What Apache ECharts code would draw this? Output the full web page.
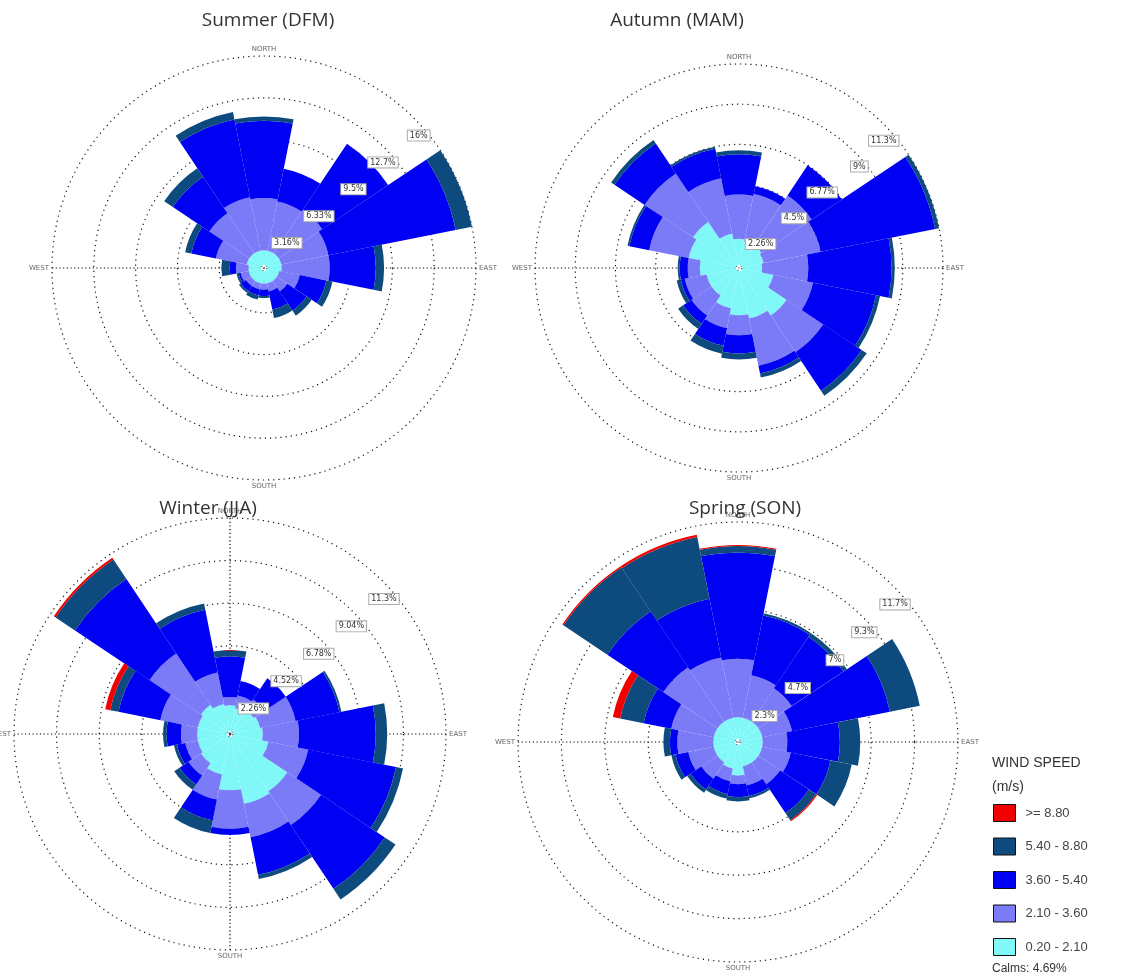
<!DOCTYPE html>
<html>
<head>
<meta charset="utf-8">
<script src="https://cdn.jsdelivr.net/npm/echarts@6/dist/echarts.min.js"></script>
<style>
  html, body { margin: 0; padding: 0; background: #fff; }
  #main { width: 1127px; height: 977px; }
</style>
</head>
<body>
<div id="main"></div>
<script>
// wind directions, clockwise from north
var directions = ['N', 'NNE', 'NE', 'ENE', 'E', 'ESE', 'SE', 'SSE', 'S', 'SSW', 'SW', 'WSW', 'W', 'WNW', 'NW', 'NNW'];
var speedClasses = ['>= 8.80', '5.40 - 8.80', '3.60 - 5.40', '2.10 - 3.60', '0.20 - 2.10'];

// Summer (DFM) - frequency % per speed class
var summerCalm  = [1.11, 1.11, 1.11, 1.11, 1.11, 0.95, 0.95, 0.95, 0.95, 0.95, 0.95, 0.95, 0.95, 1.11, 1.11, 1.11];
var summerLow   = [3.95, 3.79, 3.95, 3.63, 3.63, 1.58, 0.95, 0.63, 0.47, 0.47, 0.47, 0.63, 0.95, 2.37, 3.63, 4.11];
var summerMid   = [5.85, 2.53, 6.00, 9.80, 3.48, 2.05, 1.74, 1.42, 0.47, 0.47, 0.47, 0.16, 0.47, 1.90, 3.32, 6.00];
var summerHigh  = [0.32, 0, 0, 1.26, 0.63, 0.47, 0.47, 0.63, 0.16, 0.32, 0.16, 0.16, 0.63, 0.47, 0.79, 0.57];
var summerStorm = [0, 0, 0, 0, 0, 0, 0, 0, 0, 0, 0, 0, 0, 0, 0, 0];
var summerRings = ['3.16%', '6.33%', '9.5%', '12.7%', '16%'];

// Autumn (MAM)
var autumnCalm  = [1.47, 1.35, 1.35, 1.24, 1.13, 1.80, 3.04, 2.71, 2.48, 2.14, 1.69, 1.69, 2.03, 2.71, 2.93, 1.80];
var autumnLow   = [2.48, 2.71, 3.38, 3.27, 2.59, 2.26, 2.48, 2.71, 1.13, 1.13, 1.35, 1.24, 0.68, 2.26, 3.27, 3.16];
var autumnMid   = [2.26, 0.45, 2.03, 6.54, 4.67, 3.61, 2.59, 0.45, 1.01, 1.01, 0.56, 0.23, 0.45, 1.13, 2.03, 1.69];
var autumnHigh  = [0.23, 0, 0, 0.34, 0.18, 0.23, 0.34, 0.23, 0.34, 0.45, 0.34, 0.23, 0.11, 0.11, 0.23, 0.11];
var autumnStorm = [0, 0, 0, 0, 0, 0, 0, 0, 0, 0, 0, 0, 0, 0, 0, 0];
var autumnRings = ['2.26%', '4.5%', '6.77%', '9%', '11.3%'];

// Winter (JJA)
var winterCalm  = [1.36, 1.24, 1.36, 1.47, 1.58, 1.92, 3.50, 3.62, 2.83, 2.03, 1.70, 1.58, 1.58, 1.58, 1.70, 1.47];
var winterLow   = [0.45, 0.68, 0.68, 1.92, 1.92, 2.15, 2.15, 1.81, 2.03, 1.36, 0.79, 0.68, 0.86, 2.03, 3.28, 1.70];
var winterMid   = [2.15, 0.79, 1.36, 2.37, 4.07, 4.75, 4.07, 2.03, 0.34, 1.13, 0.57, 0.45, 0.77, 2.26, 4.75, 3.39];
var winterHigh  = [0.34, 0, 0, 0.11, 0.61, 0.38, 0.68, 0.23, 0, 0.68, 0.34, 0.16, 0.18, 0.45, 1.24, 0.34];
var winterStorm = [0, 0, 0, 0, 0, 0, 0, 0, 0, 0, 0, 0, 0, 0.27, 0.11, 0];
var winterRings = ['2.26%', '4.52%', '6.78%', '9.04%', '11.3%'];

// Spring (SON)
var springCalm  = [1.17, 1.17, 1.17, 1.17, 1.17, 1.17, 1.17, 1.17, 1.64, 1.29, 1.17, 1.17, 1.17, 1.17, 1.17, 1.17];
var springLow   = [3.16, 2.34, 2.15, 1.64, 1.33, 1.57, 1.40, 1.05, 0.47, 0.70, 1.05, 1.40, 1.94, 2.34, 3.51, 3.32];
var springMid   = [5.73, 3.28, 3.35, 5.38, 2.83, 2.18, 1.87, 0.59, 0.70, 0.70, 0.70, 0.70, 0.40, 1.52, 3.63, 3.23];
var springHigh  = [0.35, 0.12, 0.23, 1.64, 1.10, 1.17, 0.47, 0.12, 0.23, 0.26, 0.21, 0.23, 0.35, 1.29, 2.85, 3.39];
var springStorm = [0.05, 0, 0, 0, 0, 0, 0.07, 0, 0, 0, 0, 0, 0, 0.40, 0.07, 0.12];
var springRings = ['2.3%', '4.7%', '7%', '9.3%', '11.7%'];

var colors = {
  '0.20 - 2.10': '#80f8f8',
  '2.10 - 3.60': '#7b7bf7',
  '3.60 - 5.40': '#0000f2',
  '5.40 - 8.80': '#0d4a7e',
  '>= 8.80': '#f20000'
};

// panels: data + where each rose sits on the page
var panels = [
  { title: 'Summer (DFM)', titlePos: [263, 6], center: [264, 268], radius: 212, step: 3.16, rings: summerRings, axisLines: ['#000', 'transparent'],
    data: [summerCalm, summerLow, summerMid, summerHigh, summerStorm] },
  { title: 'Autumn (MAM)', titlePos: [672, 6], center: [739, 268], radius: 204, step: 2.255, rings: autumnRings, axisLines: ['#000', 'transparent'],
    data: [autumnCalm, autumnLow, autumnMid, autumnHigh, autumnStorm] },
  { title: 'Winter (JJA)', titlePos: [203, 494], center: [230, 734], radius: 216, step: 2.26, rings: winterRings, axisLines: ['#000'],
    data: [winterCalm, winterLow, winterMid, winterHigh, winterStorm] },
  { title: 'Spring (SON)', titlePos: [740, 494], center: [738, 742], radius: 220, step: 2.34, rings: springRings, axisLines: ['#000', 'transparent'],
    data: [springCalm, springLow, springMid, springHigh, springStorm] }
];

var chart = echarts.init(document.getElementById('main'));

var titles = [];
var polars = [];
var angleAxes = [];
var radiusAxes = [];
var series = [];

panels.forEach(function (p, i) {
  titles.push({
    text: p.title,
    left: p.titlePos[0], top: p.titlePos[1],
    textAlign: 'center',
    textStyle: { fontFamily: 'Open Sans', fontSize: 19, fontWeight: 'normal', color: '#333' }
  });

  var base = polars.length;
  // bars (small hole in the middle for calms)
  polars.push({ center: p.center, radius: [3, p.radius] });
  // compass spokes + labels
  polars.push({ center: p.center, radius: [0, p.radius] });
  // ring labels along the NE diagonal
  polars.push({ center: p.center, radius: [3, p.radius] });

  angleAxes.push({
    polarIndex: base, type: 'category', data: directions, startAngle: 101.25,
    axisLine: { show: false }, axisTick: { show: false }, axisLabel: { show: false }, splitLine: { show: false }
  });
  radiusAxes.push({
    polarIndex: base, type: 'value', min: 0, max: p.step * 5, interval: p.step,
    axisLine: { show: false }, axisTick: { show: false }, axisLabel: { show: false },
    splitLine: { show: true, lineStyle: { color: '#111', width: 1.2, type: [1.2, 4] } }
  });

  angleAxes.push({
    polarIndex: base + 1, type: 'category', data: ['EAST', 'NORTH', 'WEST', 'SOUTH'],
    boundaryGap: false, startAngle: 0, clockwise: false, z: 1,
    axisLine: { show: false }, axisTick: { show: false },
    axisLabel: { show: true, interval: 0, fontSize: 7, color: '#666', fontFamily: 'DejaVu Sans', margin: 3 },
    splitLine: { show: true, interval: 0, lineStyle: { color: p.axisLines, width: 1.2, type: [1.2, 2.5] } }
  });
  radiusAxes.push({
    polarIndex: base + 1, type: 'value', min: 0, max: 1,
    axisLine: { show: false }, axisTick: { show: false }, axisLabel: { show: false }, splitLine: { show: false }
  });

  angleAxes.push({
    polarIndex: base + 2, type: 'value', min: 0, max: 360, startAngle: 40,
    axisLine: { show: false }, axisTick: { show: false }, axisLabel: { show: false }, splitLine: { show: false }
  });
  radiusAxes.push({
    polarIndex: base + 2, type: 'value', min: 0, max: p.step * 5, interval: p.step, z: 20,
    axisLine: { show: false }, axisTick: { show: false }, splitLine: { show: false },
    axisLabel: {
      show: true, showMinLabel: false, fontSize: 8, color: '#333', fontFamily: 'DejaVu Sans',
      backgroundColor: '#fff', borderColor: '#aaa', borderWidth: 1, padding: [1, 2], margin: -5,
      formatter: function (v) {
        var k = Math.round(v / p.step);
        return k > 0 ? p.rings[k - 1] : '';
      }
    }
  });

  // stacked from calm upwards
  var order = ['0.20 - 2.10', '2.10 - 3.60', '3.60 - 5.40', '5.40 - 8.80', '>= 8.80'];
  order.forEach(function (name, k) {
    series.push({
      name: name,
      type: 'bar',
      coordinateSystem: 'polar',
      polarIndex: base,
      stack: 'rose' + i,
      barCategoryGap: '0%',
      data: p.data[k],
      itemStyle: { color: colors[name] },
      silent: true
    });
  });
});

titles.push({
  text: 'WIND SPEED\n(m/s)',
  left: 987, top: 746,
  textStyle: { fontFamily: 'Liberation Sans', fontSize: 14, fontWeight: 'normal', color: '#333', lineHeight: 24 }
});
titles.push({
  text: 'Calms: 4.69%',
  left: 987, top: 958,
  textStyle: { fontFamily: 'Liberation Sans', fontSize: 12, fontWeight: 'normal', color: '#333' }
});

chart.setOption({
  backgroundColor: '#fff',
  animation: false,
  title: titles,
  legend: {
    orient: 'vertical',
    left: 988, top: 799,
    data: speedClasses,
    icon: 'rect',
    itemWidth: 22, itemHeight: 17,
    itemGap: 15.5,
    itemStyle: { borderColor: '#111', borderWidth: 1 },
    textStyle: { fontFamily: 'Liberation Sans', fontSize: 13, color: '#444', padding: [0, 0, 0, 5] }
  },
  polar: polars,
  angleAxis: angleAxes,
  radiusAxis: radiusAxes,
  series: series
});
</script>
</body>
</html>
